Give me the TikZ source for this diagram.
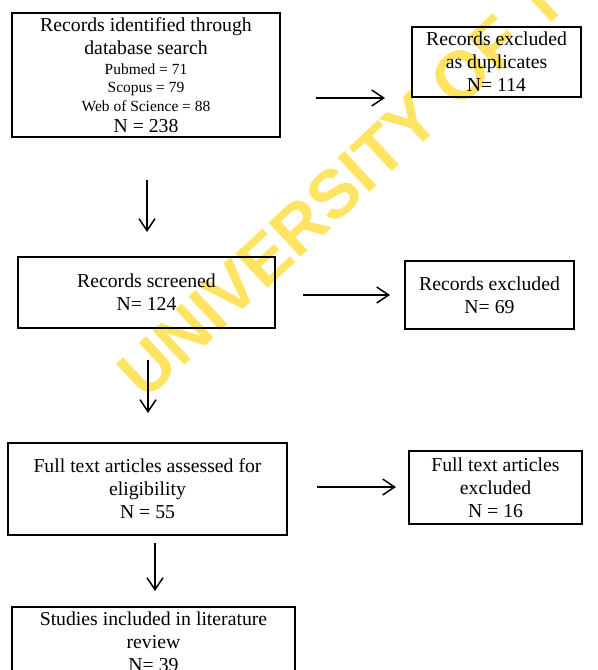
\documentclass[tikz,border=0pt]{standalone}
\usepackage{fontspec}
\setmainfont{Liberation Serif}
\newfontfamily\wmfont{Liberation Sans}
\usetikzlibrary{arrows.meta}
\definecolor{wmyellow}{RGB}{255,228,100}

\begin{document}
\begin{tikzpicture}[x=0.75pt,y=-0.75pt,
    box/.style={draw,line width=.8pt,inner sep=0pt,align=center,
      font=\fontsize{14.8}{17.2}\selectfont},
    arr/.style={-{Straight Barb[length=9pt,width=12pt]},line width=1.1pt}]
      \useasboundingbox (0,0) rectangle (597,670);
      \clip (0,0) rectangle (597,670);
      % watermark
      \node[rotate=43,anchor=base west,inner sep=0pt,text=wmyellow,
        font=\wmfont\bfseries\fontsize{51}{54}\selectfont] (wm) at (145,402)
        {UNIVERSITY OF\hspace{0.45em}I};
      % boxes
      \node[box,minimum width=201pt,minimum height=93pt] (ident) at (146,75)
        {Records identified through\\ database search\\[-2pt]
         {\fontsize{11.6}{13.9}\selectfont Pubmed = 71}\\[-3.5pt]
         {\fontsize{11.6}{13.9}\selectfont Scopus = 79}\\[-3pt]
         {\fontsize{11.6}{13.9}\selectfont Web of Science = 88}\\[-2pt]
         N = 238};
      \node[box,minimum width=126.75pt,minimum height=52.5pt] (dupl) at (496.5,62)
        {Records excluded\\ as duplicates\\ N= 114};
      \node[box,minimum width=192.75pt,minimum height=53.25pt] (scr) at (146.5,292.5)
        {Records screened\\ N= 124};
      \node[box,minimum width=126.75pt,minimum height=51pt] (excl) at (489.5,295)
        {Records excluded\\ N= 69};
      \node[box,minimum width=209.25pt,minimum height=69pt] (full) at (147.5,489)
        {Full text articles assessed for\\ eligibility\\ N = 55};
      \node[box,minimum width=129.75pt,minimum height=54.75pt] (fexcl) at (495.5,487.5)
        {Full text articles\\ excluded\\ N = 16};
      \node[box,minimum width=212.25pt,minimum height=52.5pt] (incl) at (153.5,642)
        {Studies included in literature\\ review\\ N= 39};
      % arrows
      \coordinate (a1) at (316,98);  \coordinate (b1) at (385,98);
      \coordinate (a2) at (147,180); \coordinate (b2) at (147,232);
      \coordinate (a3) at (303,295); \coordinate (b3) at (390,295);
      \coordinate (a4) at (148,360); \coordinate (b4) at (148,413);
      \coordinate (a5) at (317,487); \coordinate (b5) at (396,487);
      \coordinate (a6) at (155,543); \coordinate (b6) at (155,591);
      \draw[arr] (a1) -- (b1);
      \draw[arr] (a2) -- (b2);
      \draw[arr] (a3) -- (b3);
      \draw[arr] (a4) -- (b4);
      \draw[arr] (a5) -- (b5);
      \draw[arr] (a6) -- (b6);
    \end{tikzpicture}
\end{document}
